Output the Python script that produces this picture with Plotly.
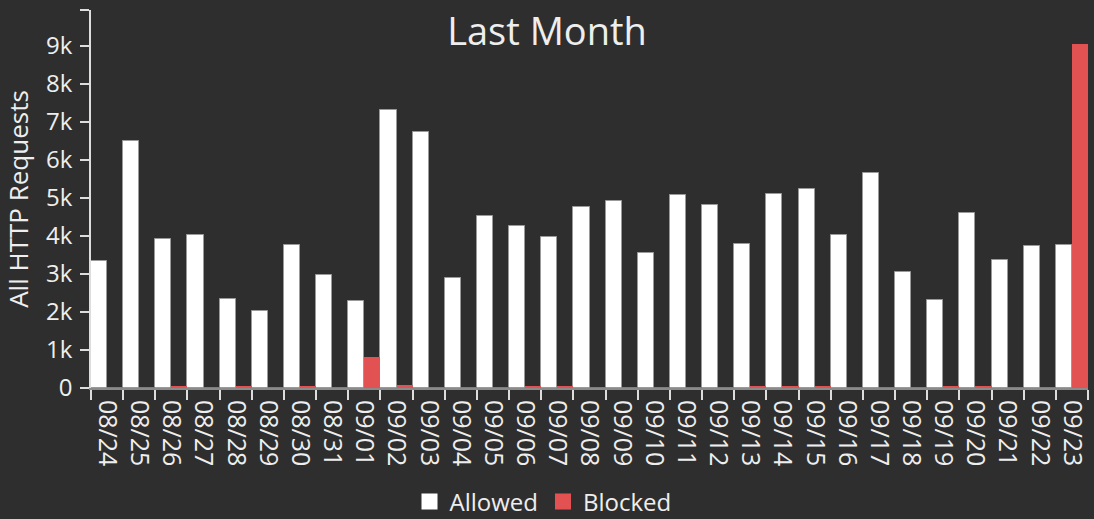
import plotly.graph_objects as go

dates = ["08/24", "08/25", "08/26", "08/27", "08/28", "08/29", "08/30", "08/31",
         "09/01", "09/02", "09/03", "09/04", "09/05", "09/06", "09/07", "09/08",
         "09/09", "09/10", "09/11", "09/12", "09/13", "09/14", "09/15", "09/16",
         "09/17", "09/18", "09/19", "09/20", "09/21", "09/22", "09/23"]
allowed = [3340, 6500, 3910, 4030, 2340, 2030, 3760, 2960,
           2280, 7300, 6720, 2890, 4510, 4270, 3960, 4750,
           4920, 3560, 5070, 4800, 3780, 5090, 5220, 4020,
           5660, 3040, 2320, 4600, 3360, 3730, 3750]
blocked = [25, 25, 35, 20, 60, 20, 40, 20,
           820, 70, 15, 10, 10, 30, 30, 10,
           10, 10, 20, 25, 50, 40, 35, 10,
           10, 20, 50, 45, 10, 5, 9030]
y_tick_vals = [0, 1000, 2000, 3000, 4000, 5000, 6000, 7000, 8000, 9000]
y_tick_text = ["0", "1k", "2k", "3k", "4k", "5k", "6k", "7k", "8k", "9k"]

y_max = max(max(allowed), max(blocked)) * 1.1

BG = "#2e2e2e"
TXT = "#eeeeee"
FONT = "Open Sans"
WHITE = "#ffffff"
RED = "#e35252"

fig = go.Figure()
fig.add_trace(go.Bar(x=dates, y=allowed, name="Allowed", showlegend=False,
                     marker=dict(color=WHITE, line=dict(color="#9a9a9a", width=1))))
fig.add_trace(go.Bar(x=dates, y=blocked, name="Blocked", showlegend=False,
                     marker=dict(color=RED, line=dict(width=0))))
# legend entries with larger square swatches
for name, col in (("Allowed", WHITE), ("Blocked", RED)):
    fig.add_trace(go.Scatter(x=[None], y=[None], mode="markers", name=name,
                             marker=dict(symbol="square", size=17, color=col,
                                         line=dict(width=0))))

fig.update_layout(
    width=1094, height=519,
    paper_bgcolor=BG, plot_bgcolor=BG,
    margin=dict(l=91, r=6, t=10, b=131, autoexpand=False),
    font=dict(family=FONT, color=TXT, size=24),
    barmode="group", bargap=0.0, bargroupgap=0.0,
    title=dict(text="Last Month", x=0.5, xanchor="center", xref="container",
               y=1 - 32 / 519, yanchor="middle", yref="container",
               font=dict(family=FONT, size=38, color=TXT)),
    legend=dict(orientation="h", x=0.5 - 4 / 1094, xanchor="center", xref="container",
                y=17 / 519, yanchor="middle", yref="container",
                font=dict(family=FONT, size=24, color=TXT),
                bgcolor="rgba(0,0,0,0)", itemwidth=30, tracegroupgap=0),
    showlegend=True,
)
fig.update_yaxes(
    range=[0, y_max], tickvals=y_tick_vals + [y_max], ticktext=y_tick_text + [""],
    showgrid=False, zeroline=False,
    showline=True, linecolor="#dddddd", linewidth=1.5,
    ticks="outside", ticklen=9, tickwidth=1.5, tickcolor="#dddddd",
    ticklabelstandoff=3,
    tickfont=dict(family=FONT, size=24, color=TXT),
    title=dict(text="All HTTP Requests", standoff=16,
               font=dict(family=FONT, size=26, color=TXT)),
    automargin=False,
)
fig.update_xaxes(
    type="category", showgrid=False, zeroline=False,
    showline=True, linecolor="#8a8a8a", linewidth=2,
    ticks="outside", tickson="boundaries", ticklen=10, tickwidth=1.5, tickcolor="#dddddd",
    ticklabelstandoff=5,
    tickangle=90, tickfont=dict(family=FONT, size=25, color=TXT),
    automargin=False,
)

fig.write_html(
    "out.html",
    config={"displayModeBar": False},
    post_script="document.body.style.margin='0';document.body.style.background='#2e2e2e';"
                "document.documentElement.style.overflow='hidden';",
)
